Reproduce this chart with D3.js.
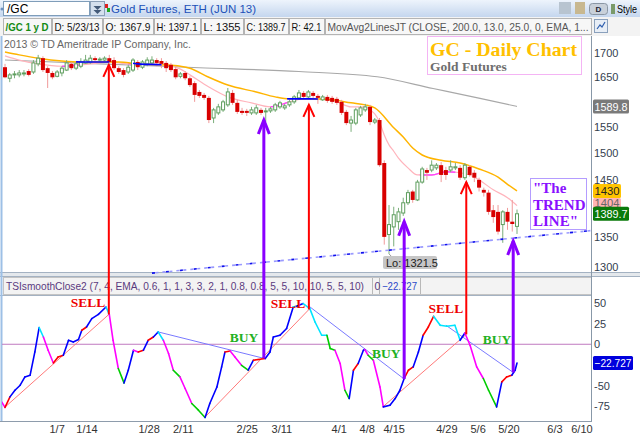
<!DOCTYPE html>
<html><head><meta charset="utf-8">
<script src="https://cdn.jsdelivr.net/npm/d3@7"></script>
<style>html,body{margin:0;padding:0;background:#fff;overflow:hidden}svg{display:block}</style>
</head><body>
<svg id="c" width="640" height="438"></svg>
<script>
// ================= DATA =================
const opens  = [1670,1647,1654,1654,1656,1662,1660,1677,1689,1668,1658,1651,1658,1664,1677,1668,1672,1679,1681,1689,1685,1685,1689,1685,1668,1664,1660,1664,1681,1670,1677,1679,1685,1683,1679,1675,1666,1651,1658,1647,1637,1619,1613,1607,1567,1577,1583,1593,1617,1597,1581,1581,1577,1577,1583,1579,1581,1583,1589,1587,1593,1599,1607,1617,1609,1617,1611,1603,1609,1607,1605,1599,1579,1557,1557,1573,1583,1589,1559,1563,1481,1354,1367,1376,1391,1409,1429,1414,1446,1468,1468,1472,1477,1468,1468,1472,1472,1454,1474,1463,1450,1432,1427,1396,1393,1371,1393,1376,1367.9];
const highs  = [1677,1658,1662,1664,1664,1666,1685,1696,1693,1672,1662,1664,1672,1685,1681,1681,1689,1696,1696,1693,1691,1693,1696,1691,1672,1668,1675,1689,1685,1685,1691,1693,1689,1689,1683,1679,1672,1660,1662,1651,1641,1623,1617,1611,1587,1595,1603,1627,1623,1603,1587,1585,1589,1593,1587,1587,1589,1597,1601,1595,1603,1613,1623,1621,1623,1621,1615,1613,1613,1611,1609,1603,1583,1571,1587,1591,1595,1593,1567,1567,1486,1405,1402,1400,1418,1432,1432,1450,1474,1472,1486,1481,1483,1474,1486,1481,1477,1481,1477,1468,1454,1436,1432,1405,1405,1396,1400,1414,1397.1];
const lows   = [1647,1639,1647,1649,1651,1651,1656,1672,1660,1627,1645,1649,1651,1662,1664,1664,1668,1677,1677,1681,1681,1683,1679,1664,1656,1649,1656,1660,1664,1666,1672,1675,1672,1668,1660,1660,1645,1647,1643,1629,1599,1607,1603,1557,1557,1573,1579,1589,1593,1575,1573,1571,1573,1573,1573,1559,1577,1579,1585,1583,1589,1595,1603,1605,1605,1607,1595,1601,1597,1595,1593,1573,1553,1540,1553,1569,1579,1553,1555,1474,1337,1321.5,1334,1362,1386,1405,1409,1412,1443,1450,1464,1468,1446,1450,1464,1468,1450,1450,1456,1446,1429,1420,1388,1374,1354,1340,1362,1359,1355];
const closes = [1649,1654,1656,1658,1658,1654,1679,1689,1664,1658,1649,1660,1668,1679,1668,1677,1681,1685,1689,1685,1687,1689,1681,1668,1660,1654,1670,1685,1670,1681,1685,1685,1679,1677,1668,1664,1649,1656,1647,1633,1613,1611,1607,1563,1583,1589,1599,1619,1597,1579,1577,1577,1583,1587,1577,1581,1585,1593,1597,1591,1599,1609,1617,1609,1619,1611,1607,1609,1601,1599,1597,1577,1557,1563,1583,1587,1589,1559,1563,1477,1350,1371,1388,1393,1409,1427,1414,1446,1470,1463,1477,1477,1459,1459,1474,1474,1454,1477,1459,1454,1436,1427,1393,1384,1359,1393,1376,1372,1389.7];

// moving averages: [day index] and [price]
const ma200Idx = [0,20,41,62,78.5,90.3,100.2,108];
const ma200Val = [1685,1677,1669,1661,1650,1626,1606,1589.8];
const ma25Idx  = [0,3,7,12,16,20,24,28,33,37,39,43,47,53,57,60,64,69,73,76,78,82,84,86,88,92,96,100,104,106,108];
const ma25Val  = [1702,1696,1689,1683,1681,1681,1681,1677,1675,1672,1668,1649,1633,1619,1609,1605,1605,1603,1597,1593,1587,1548,1530,1509,1496,1486,1481,1470,1455,1442,1430];
const ma13Idx  = [0,3,7,12,16,20,22,26,31,34,37,39,43,47,52,56,58,60,63,67,70,73,76,77,78,79,80,81,82,83,85,87,90,93,96,98,100,103,106,108];
const ma13Val  = [1694,1685,1677,1672,1675,1679,1681,1677,1677,1675,1666,1654,1629,1609,1597,1589,1593,1599,1605,1605,1599,1589,1589,1583,1575,1559,1534,1515,1503,1490,1472,1459,1459,1465,1463,1459,1450,1432,1418,1404];
const ma25BlueRanges = [[15,22],[27,33],[59.5,66]];
const ma13MagentaRanges = [[12,16],[26,27.5],[56,59.5],[87.5,95]];

// oscillator (TSIsmoothClose2)
const oscIdx = [-0.7,0,1.05,2.1,3.2,4.2,5.3,6.3,7.2,8.1,9.1,10.2,11.2,12.3,13.4,14.4,15.5,16.2,17.2,18.3,19.7,21.3,22.0,22.8,23.9,25.1,26.0,27.1,28.1,29.2,30.2,31.3,32.3,33.4,34.5,35.5,36.9,38.0,39.4,40.8,42.2,43.2,44.7,45.7,46.4,47.5,48.5,49.9,51.3,52.4,53.4,54.9,55.9,56.6,58.0,59.4,60.8,61.5,62.9,64.3,65.4,66.8,67.9,68.6,69.6,70.7,71.7,72.6,73.5,74.5,75.6,75.9,76.6,77.7,79.1,79.8,81.2,82.3,83.3,84.2,85.1,86.1,87.2,88.2,89.3,90.4,91.8,93.2,94.9,96.0,97.0,98.1,99.5,100.9,102.0,103.7,104.8,105.8,106.9,107.6,108];
const oscVal = [-69.7,-76.4,-63.6,-55.6,-49.5,-39.5,-37.4,-9.3,20.2,8.8,-7.2,-22.6,-15.3,-13.3,4.8,2.8,5.7,16.9,20.9,31.0,36.2,45.0,36.2,4.8,-29.3,-46.7,-31.4,-7.2,-9.3,-7.2,4.8,8.8,14.9,4.8,-11.2,-31.4,-39.5,-53.5,-71.6,-79.7,-88.5,-71.6,-51.6,-27.4,-9.3,-8.1,-15.3,-25.4,-31.4,-19.3,-18.5,-17.3,-9.3,8.8,10.9,19.0,45.0,45.9,49.2,43.1,26.9,10.9,10.9,-5.2,-7.2,-23.3,-55.6,-65.6,-31.4,-23.3,-7.2,-6.4,-13.3,-19.3,-51.6,-75.7,-73.7,-65.6,-55.6,-41.4,-31.4,-27.4,-9.3,10.9,20.9,33.8,22.9,21.7,22.9,4.8,13.6,-1.2,-27.4,-41.4,-55.6,-75.7,-45.5,-39.5,-37.4,-31.4,-22.727];
const oscSegColor = ("mrbbbbbbcm"+"mrrbbbbrbb"+"bcmmgbbmrb"+"rbcmmgmmgg"+"bbbbrmmgbr"+"rbbbbbcbcc"+"ccggmmgbrb"+"bmgmmbbbbr"+"rbbrrccccb"+"mmmggbrrbb").split("");

// oscillator trend lines [idx0, val0, idx1, val1]
const oscSupport = [[0,-76,21.9,36],[42.2,-88,64.1,42],[79.7,-75.7,97.3,12]];
const oscResist  = [[32.3,14.9,54.6,-17],[63.9,47,84.2,-42],[93,23,107.2,-34]];

// price trend line
const trendIdx = [31,124];
const trendPrice = [1290,1361];

// signal arrows
const sellIdx = [21.9,64.1,97.3];
const sellOsc = [36,42,12];
const sellPrice = [1675,1593,1446];
const buyIdx = [54.6,84.2,107.2];
const buyOsc = [-17,-42,-34];
const buyPrice = [1563,1376,1343];

// annotation labels
const sigText = ["SELL","SELL","SELL","BUY","BUY","BUY"];
const sigIdx  = [17.5,59.7,93,50.4,80.4,103.8];
const sigOsc  = [44.7,43.5,37.5,2.7,-16.6,0.3];

// axis ticks (values hidden behind the value badges are not labelled)
const priceTicks = [1300,1350,1450,1500,1550,1650,1700];
const oscTicks = [-75,-50,0,25,50];
const dateLabels = ["1/7","1/14","1/28","2/11","2/25","3/11","4/1","4/8","4/15","4/29","5/6","5/20","6/3","6/10"];
const dateIdx = [11,17.3,30.4,37.6,51.1,58.4,70.5,76.4,82.1,93.2,99.8,106.3,116,121.7];

// header info
const infoCells = ["/GC 1 y D","D: 5/23/13","O: 1367.9","H: 1397.1","L: 1355","C: 1389.7","R: 42.1","MovAvg2LinesJT (CLOSE, 200.0, 13.0, 25.0, 0, EMA, 1..."];
const lastMa200 = 1589.8, lastMa25 = 1430, lastMa13 = 1404, lastClose = 1389.7, lastOsc = -22.727, lowPrice = 1321.5;

// ================= DRAW =================
const svg = d3.select("#c");
const defs = svg.append("defs");
const SANS = "'Liberation Sans', Arial, sans-serif";
const SERIF = "'Liberation Serif', 'Times New Roman', serif";

const x = d3.scaleLinear().domain([0,108]).range([5,517]);
const y = d3.scaleLog().domain([1300,1700]).range([267,53]);
const yo = d3.scaleLinear().domain([-75,50]).range([406.3,302.9]);

const MAIN_T=36, MAIN_B=272, OSC_T=296, OSC_B=421, PLOT_L=2, PLOT_R=591;

// clips
defs.append("clipPath").attr("id","clipMain").append("rect").attr("x",PLOT_L).attr("y",MAIN_T+1).attr("width",PLOT_R-PLOT_L).attr("height",MAIN_B-MAIN_T+1);
defs.append("clipPath").attr("id","clipOsc").append("rect").attr("x",PLOT_L).attr("y",OSC_T).attr("width",PLOT_R-PLOT_L).attr("height",OSC_B-OSC_T);
const cb = defs.append("clipPath").attr("id","clipBlue");
ma25BlueRanges.forEach(r=>cb.append("rect").attr("x",x(r[0])).attr("y",0).attr("width",x(r[1])-x(r[0])).attr("height",438));
const cm = defs.append("clipPath").attr("id","clipMag");
ma13MagentaRanges.forEach(r=>cm.append("rect").attr("x",x(r[0])).attr("y",0).attr("width",x(r[1])-x(r[0])).attr("height",438));

// ---- header row 1 ----
const g1 = defs.append("linearGradient").attr("id","hdr").attr("x1",0).attr("y1",0).attr("x2",0).attr("y2",1);
g1.append("stop").attr("offset","0").attr("stop-color","#eef4fc");
g1.append("stop").attr("offset","1").attr("stop-color","#c4d6ee");
svg.append("rect").attr("x",0).attr("y",0).attr("width",640).attr("height",17).attr("fill","url(#hdr)");
svg.append("rect").attr("x",3.5).attr("y",1.5).attr("width",86).attr("height",14).attr("fill","#fff").attr("stroke","#7f9db9");
svg.append("circle").attr("cx",2).attr("cy",9).attr("r",1.5).attr("fill","#6a8fc0");
svg.append("text").attr("x",7).attr("y",13).attr("font-family",SANS).attr("font-size",12).attr("fill","#000").text("/GC");
svg.append("rect").attr("x",90.5).attr("y",1.5).attr("width",14).attr("height",14).attr("fill","#d5e0ee").attr("stroke","#8ca0b8");
svg.append("path").attr("d","M93.5,6 L101.5,6 L97.5,10 Z M93.5,10 L101.5,10 L97.5,14 Z").attr("fill","#445a78");
svg.append("rect").attr("x",105).attr("y",4).attr("width",3).attr("height",4).attr("fill","#d22");
svg.append("rect").attr("x",107).attr("y",8).attr("width",3).attr("height",4).attr("fill","#2a2");
svg.append("text").attr("x",111).attr("y",12.5).attr("font-family",SANS).attr("font-size",11.5).attr("fill","#2050b8").text("Gold Futures, ETH (JUN 13)");
svg.append("rect").attr("x",559).attr("y",2).attr("width",12).attr("height",12).attr("fill","#b8c4d0");
svg.append("rect").attr("x",575).attr("y",2).attr("width",10).attr("height",12).attr("fill","#c8b890");
svg.append("rect").attr("x",589.5).attr("y",3.5).attr("width",18).attr("height",11).attr("rx",3).attr("fill","#c8d0da").attr("stroke","#8a96a4");
svg.append("text").attr("x",598.5).attr("y",12).attr("text-anchor","middle").attr("font-family",SANS).attr("font-size",8).attr("font-weight","bold").attr("fill","#223").text("D");
svg.append("rect").attr("x",611).attr("y",4).attr("width",4).attr("height",10).attr("fill","#7a9a6a");
svg.append("text").attr("x",617).attr("y",13).attr("font-family",SANS).attr("font-size",10.5).attr("fill","#000")
  .attr("textLength",20).attr("lengthAdjust","spacingAndGlyphs").text("Style");

// ---- header row 2 ----
svg.append("rect").attr("x",0).attr("y",17).attr("width",640).attr("height",19).attr("fill","#f3f3f3");
const cellX = [3,52,103,154,201,244,289,325,592];
for (let k=0;k<infoCells.length;k++){
  const w = cellX[k+1]-cellX[k];
  svg.append("rect").attr("x",cellX[k]+0.5).attr("y",18.5).attr("width",w-1).attr("height",16)
    .attr("fill","#f7f7f7").attr("stroke","#b4b4b4");
  svg.append("text").attr("x",cellX[k]+2.5).attr("y",30.5).attr("font-family",SANS).attr("font-size",11)
    .attr("fill", k===0 ? "#138a13" : (k===7?"#555":"#111")).attr("font-weight",k===0?"bold":"normal")
    .attr("textLength",w-6).attr("lengthAdjust","spacingAndGlyphs").text(infoCells[k]);
}
svg.append("rect").attr("x",594.5).attr("y",19.5).attr("width",13).attr("height",13).attr("fill","#e8eef6").attr("stroke","#8aa0bc");
svg.append("path").attr("d","M597,29 L600,25 L602,27 L605,22").attr("fill","none").attr("stroke","#3060b0").attr("stroke-width",1.2);

// ---- panels ----
svg.append("rect").attr("x",0).attr("y",MAIN_T).attr("width",640).attr("height",MAIN_B-MAIN_T).attr("fill","#fff");
svg.append("rect").attr("x",0).attr("y",272).attr("width",640).attr("height",5).attr("fill","#e4e8ec");
svg.append("line").attr("x1",0).attr("x2",640).attr("y1",272.5).attr("y2",272.5).attr("stroke","#a4b2c2");
svg.append("line").attr("x1",0).attr("x2",640).attr("y1",276.5).attr("y2",276.5).attr("stroke","#a4b2c2");
svg.append("rect").attr("x",0).attr("y",277).attr("width",640).attr("height",18).attr("fill","#fff");
svg.append("rect").attr("x",3.5).attr("y",277.5).attr("width",588).attr("height",17).attr("fill","#f3f3f3").attr("stroke","#c4c4c4");
[372,379,420].forEach(cx=>svg.append("line").attr("x1",cx+0.5).attr("x2",cx+0.5).attr("y1",278).attr("y2",294).attr("stroke","#b8b8b8"));
svg.append("line").attr("x1",0).attr("x2",592).attr("y1",295.5).attr("y2",295.5).attr("stroke","#a4b2c2");
svg.append("text").attr("x",6).attr("y",290).attr("font-family",SANS).attr("font-size",10.5).attr("fill","#5a3a7e")
  .attr("textLength",358).attr("lengthAdjust","spacingAndGlyphs")
  .text("TSIsmoothClose2 (7, 4, EMA, 0.6, 1, 1, 3, 3, 2, 1, 0.8, 0.8, 5, 5, 10, 10, 5, 5, 10)");
svg.append("text").attr("x",374.5).attr("y",290).attr("font-family",SANS).attr("font-size",10.5).attr("fill","#5a3a7e").text("0");
svg.append("text").attr("x",382).attr("y",290).attr("font-family",SANS).attr("font-size",10.5).attr("fill","#2a48c8")
  .attr("textLength",35).attr("lengthAdjust","spacingAndGlyphs").text(d3.format(".3f")(lastOsc));
svg.append("line").attr("x1",0).attr("x2",592).attr("y1",OSC_B+0.5).attr("y2",OSC_B+0.5).attr("stroke","#8e9cac");
svg.append("line").attr("x1",1.5).attr("x2",1.5).attr("y1",MAIN_T).attr("y2",OSC_B).attr("stroke","#9dc0e6").attr("stroke-width",2);
svg.append("line").attr("x1",PLOT_R+0.5).attr("x2",PLOT_R+0.5).attr("y1",MAIN_T).attr("y2",OSC_B).attr("stroke","#8898a8");

svg.append("text").attr("x",4).attr("y",48).attr("font-family",SANS).attr("font-size",10.5).attr("fill","#666")
  .text("2013 \u00A9 TD Ameritrade IP Company, Inc.");

// ---- main panel content ----
const main = svg.append("g").attr("clip-path","url(#clipMain)");
const lineP = (idx,val)=>d3.line().curve(d3.curveMonotoneX).x((d,k)=>x(idx[k])).y((d,k)=>y(val[k]))(val);
main.append("path").attr("d",lineP(ma200Idx,ma200Val)).attr("fill","none").attr("stroke","#a8a8a8").attr("stroke-width",1.1);
main.append("path").attr("d",lineP(ma13Idx,ma13Val)).attr("fill","none").attr("stroke","#ffb4bc").attr("stroke-width",1.2);
main.append("path").attr("d",lineP(ma13Idx,ma13Val)).attr("fill","none").attr("stroke","#ff44ff").attr("stroke-width",1.4).attr("clip-path","url(#clipMag)");
main.append("path").attr("d",lineP(ma25Idx,ma25Val)).attr("fill","none").attr("stroke","#ffb400").attr("stroke-width",1.5);

// candles
const cg = main.append("g");
closes.forEach((c,i)=>{
  const o=opens[i], up = c>=o, cx = x(i);
  cg.append("line").attr("x1",cx).attr("x2",cx).attr("y1",y(highs[i])).attr("y2",y(lows[i]))
    .attr("stroke", up ? "#7aae7a" : "#f09a9a").attr("stroke-width",1);
  const top = y(Math.max(o,c)), bot = y(Math.min(o,c));
  if (up) {
    cg.append("rect").attr("x",cx-1.5).attr("y",top).attr("width",3).attr("height",Math.max(1,bot-top))
      .attr("fill","#fff").attr("stroke","#5e9e5e").attr("stroke-width",1);
  } else {
    cg.append("rect").attr("x",cx-2).attr("y",top).attr("width",4).attr("height",Math.max(1.5,bot-top)).attr("fill","#d80000");
  }
});
main.append("path").attr("d",lineP(ma25Idx,ma25Val)).attr("fill","none").attr("stroke","#0000ff").attr("stroke-width",1.6).attr("clip-path","url(#clipBlue)");

// trend line
main.append("line").attr("x1",x(trendIdx[0])).attr("y1",y(trendPrice[0])).attr("x2",x(trendIdx[1])).attr("y2",y(trendPrice[1]))
  .attr("stroke","#9a9aff").attr("stroke-width",1.6).attr("stroke-dasharray","3 4").attr("stroke-dashoffset",3.5);
main.append("line").attr("x1",x(trendIdx[0])).attr("y1",y(trendPrice[0])).attr("x2",x(trendIdx[1])).attr("y2",y(trendPrice[1]))
  .attr("stroke","#1010ee").attr("stroke-width",1.6).attr("stroke-dasharray","3 11");

// Lo badge
const loX = x(81), loY = y(lowPrice);
main.append("path").attr("d",`M${loX},${loY} L${loX+4},${loY+4}`).attr("stroke","#999").attr("fill","none");
main.append("rect").attr("x",383).attr("y",256).attr("width",54).attr("height",13).attr("rx",2).attr("fill","#c6c6c6");
main.append("text").attr("x",386).attr("y",266.5).attr("font-family",SANS).attr("font-size",11).attr("fill","#222").text("Lo: "+lowPrice);

// title box
svg.append("rect").attr("x",427.5).attr("y",36.5).attr("width",154).attr("height",38).attr("fill","#fff").attr("stroke","#f4b4f4");
svg.append("text").attr("x",430).attr("y",56).attr("font-family",SERIF).attr("font-weight","bold").attr("font-size",19.5).attr("fill","#ffc000")
  .attr("textLength",147).attr("lengthAdjust","spacingAndGlyphs").text("GC - Daily Chart");
svg.append("text").attr("x",430).attr("y",71).attr("font-family",SERIF).attr("font-weight","bold").attr("font-size",13.5).attr("fill","#6e6e6e").text("Gold Futures");

// "The TREND LINE" box
svg.append("rect").attr("x",530.5).attr("y",178.5).attr("width",56).attr("height",51).attr("fill","#fff").attr("stroke","#b49cff");
["\"The","TREND","LINE\""].forEach((t,k)=>svg.append("text").attr("x",533).attr("y",193+k*16.5)
  .attr("font-family",SERIF).attr("font-weight","bold").attr("font-size",15).attr("fill","#8a10ff").text(t));

// ---- oscillator panel ----
const osc = svg.append("g").attr("clip-path","url(#clipOsc)");
osc.append("line").attr("x1",PLOT_L).attr("x2",PLOT_R).attr("y1",yo(0)).attr("y2",yo(0)).attr("stroke","#c07ac0").attr("stroke-width",1);
oscSupport.forEach(s=>osc.append("line").attr("x1",x(s[0])).attr("y1",yo(s[1])).attr("x2",x(s[2])).attr("y2",yo(s[3]))
  .attr("stroke","#ff7a7a").attr("stroke-width",1));
oscResist.forEach(s=>osc.append("line").attr("x1",x(s[0])).attr("y1",yo(s[1])).attr("x2",x(s[2])).attr("y2",yo(s[3]))
  .attr("stroke","#7a7aff").attr("stroke-width",1));
const cmap = {b:"#0000ff",m:"#ff00ff",c:"#00e4ff",g:"#00cc00",r:"#ff0000"};
for (let k=0;k<oscVal.length-1;k++){
  osc.append("line").attr("x1",x(oscIdx[k])).attr("y1",yo(oscVal[k])).attr("x2",x(oscIdx[k+1])).attr("y2",yo(oscVal[k+1]))
    .attr("stroke",cmap[oscSegColor[k]]||"#0000ff").attr("stroke-width",1.6).attr("stroke-linecap","round");
}

// ---- signal arrows ----
function arrow(ix,ov,pr,color,w,hw,hh){
  const ax=x(ix), y0=yo(ov), y1=y(pr);
  svg.append("line").attr("x1",ax).attr("x2",ax).attr("y1",y0).attr("y2",y1).attr("stroke",color).attr("stroke-width",w);
  svg.append("path").attr("d",`M${ax-hw},${y1+hh} L${ax},${y1} L${ax+hw},${y1+hh}`).attr("fill","none")
    .attr("stroke",color).attr("stroke-width",w).attr("stroke-linejoin","miter");
}
sellIdx.forEach((ix,k)=>arrow(ix,sellOsc[k],sellPrice[k],"#ff0000",2,5.5,12));
buyIdx.forEach((ix,k)=>arrow(ix,buyOsc[k],buyPrice[k],"#8a00ff",3,5.5,14));

// labels
sigText.forEach((t,k)=>svg.append("text").attr("x",x(sigIdx[k])).attr("y",yo(sigOsc[k])).attr("text-anchor","middle")
  .attr("font-family",SERIF).attr("font-weight","bold").attr("font-size",13.5)
  .attr("fill", t==="SELL" ? "#ee0000" : "#22b022").text(t));

// ---- right axes ----
const axc = "#34404e";
priceTicks.forEach(v=>svg.append("text").attr("x",594).attr("y",y(v)).attr("dy","0.36em").attr("font-family",SANS)
  .attr("font-size",11).attr("fill",axc).text(v));
oscTicks.forEach(v=>svg.append("text").attr("x",594).attr("y",yo(v)).attr("dy","0.36em").attr("font-family",SANS)
  .attr("font-size",11).attr("fill",axc).text(v));

function badge(yy,w,h,bg,fg,label){
  svg.append("rect").attr("x",593).attr("y",yy-h/2).attr("width",w).attr("height",h).attr("rx",1.5).attr("fill",bg);
  svg.append("text").attr("x",594.5).attr("y",yy).attr("dy","0.36em").attr("font-family",SANS).attr("font-size",11.5).attr("fill",fg)
    .attr("textLength",w-3).attr("lengthAdjust","spacingAndGlyphs").text(label);
}
badge(y(lastMa200),36,14,"#7a7a7a","#fff",lastMa200);
badge(y(lastMa25),28,14,"#ffc400","#222",lastMa25);
badge(y(lastMa13)-2.5,28,10,"#ffb4b4","#666",lastMa13);
badge(y(lastClose),36,14,"#0a7a0a","#fff",lastClose);
badge(yo(lastOsc),40,14,"#0000dd","#fff",d3.format(".3f")(lastOsc));

// date labels
dateLabels.forEach((t,k)=>svg.append("text").attr("x",x(dateIdx[k])).attr("y",433).attr("text-anchor","middle")
  .attr("font-family",SANS).attr("font-size",11).attr("fill","#333").text(t));
</script>
</body></html>
